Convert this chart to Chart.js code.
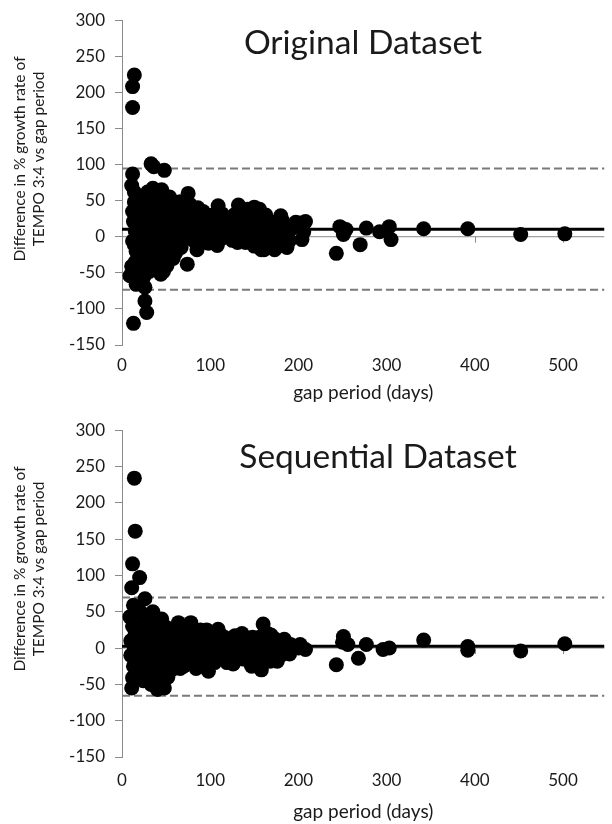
<!DOCTYPE html>
<html>
<head>
<meta charset="utf-8">
<script src="https://cdn.jsdelivr.net/npm/chart.js@4.4.1/dist/chart.umd.min.js"></script>
<style>
  body { margin: 0; background: #fff; width: 612px; height: 824px; overflow: hidden; }
  canvas { position: absolute; left: 0; }
  #c1 { top: 0; }
  #c2 { top: 410px; }
</style>
</head>
<body>
<canvas id="c1" width="612" height="410"></canvas>
<canvas id="c2" width="612" height="414"></canvas>
<script>
// --------------------------- Data ---------------------------
const xTicks = [0, 100, 200, 300, 400, 500];
const yMin = -150, yMax = 300, yStep = 50;
const xMax = 547;

const yTitle = ['Difference in % growth rate of', 'TEMPO 3:4 vs gap period'];
const xTitle = 'gap period (days)';

// Original dataset: [gap days, difference %]
const origPoints = [
  [14,224],[12,208],[12,179],[33,101],[36,97],[48,92],[12,87],
  [11,71],[14,62],[35,67],[44,58],[75,60],
  [12,35],[13,21],[12,-6],[14,-11],[11,-41],[9,-54],[16,-66],[26,-70],[26,-89],[28,-105],[13,-120],
  [74,-38],[50,-29],[85,-18],[109,43],[132,44],[150,41],[156,38],[180,29],[202,19],[87,30],[65,48],[55,41],
  [117,3],[142,0],[150,-13],[161,-18],[172,-16],[187,-15],[132,21],[95,-2],[98,-9],
  [103,30],[122,25],[208,21],[206,7],[204,-4],[247,14],[254,10],[251,3],[277,12],[292,7],[303,14],[305,-4],
  [342,11],[243,-23],[270,-11],[143,-2],[158,-18],[173,-18],[150,21],[165,21],[176,12],[183,0],[165,-2],
  [392,11],[452,3],[502,4],
  [18,45],[20,30],[22,15],[24,0],[20,-15],[18,-30],[22,-45],[25,-55],[28,-40],[30,-25],[32,-10],[30,5],
  [28,20],[30,38],[26,52],[32,55],[38,48],[40,35],[38,20],[36,5],[38,-8],[35,-22],[40,-30],[42,-45],
  [46,-38],[48,-20],[45,-5],[50,10],[47,25],[52,38],[56,28],[58,15],[55,0],[60,-12],[62,5],[64,22],
  [68,35],[70,15],[72,0],[78,20],[80,35],[82,5],[90,15],[95,25],[100,10],[105,15],[110,20],[115,12],
  [120,8],[125,15],[128,5],[135,10],[138,28],[145,15],[155,5],[160,10],[168,5],[175,-5],[180,15],
  [185,5],[190,-5],[178,-12],[165,-12],[152,-5],[140,-8],[112,-3],[125,-5],
  [16,-20],[15,8],[17,52],[19,-50],[23,-60],[21,40],[27,-20],[33,28],[34,-35],[43,-15],[46,55],[53,-22],
  [57,45],[63,-5],[66,48],[44,12],[36,38],[29,62],[31,-48],[41,20],[24,-30],[52,-10],[58,-30],[62,30],
  [70,25],[76,10],[84,22],[88,0],[92,35],[97,5],[60,40],[45,65],
  [20,55],[24,45],[27,35],[34,42],[39,60],[42,50],[49,45],[54,55],[26,-10],[29,-5],[33,-18],[37,-28],
  [41,-5],[44,-52],[47,-48],[51,-40],[56,-15],[61,-22],[65,10],[67,-15],[73,30],[77,45],[81,-5],[86,40],
  [91,-8],[94,12],[99,28],[104,0],[108,-12],[113,32],[118,25],[127,30],[131,-8],[137,0],[142,38],[147,25],
  [153,28],[159,2],[163,30],[170,20],[174,-8],[182,22],[188,8],[193,12],[197,20],[15,-35],[17,25],[19,-5],
  [21,-25],[23,10],[25,30],[16,40],[14,48]
];
const origMean = 10.5;
const origUpper = 94.5;
const origLower = -73.5;

// Sequential dataset: [gap days, difference %]
const seqPoints = [
  [14,234],[15,161],[12,116],[20,97],[11,83],[26,68],[13,59],[35,50],[9,43],[78,35],[109,26],[160,33],
  [12,-41],[11,-55],[24,-45],[40,-57],[48,-55],[35,-45],[158,-30],[147,-25],[98,-32],[59,-25],[128,17],
  [191,5],[200,0],[169,18],[202,5],[208,-2],[251,16],[277,5],[296,-2],[303,0],[342,11],[243,-23],
  [268,-14],[256,5],[176,-18],[87,-25],[392,2],[392,-3],[452,-4],[502,6],[145,-20],[250,8],
  [15,20],[18,5],[20,-10],[16,-25],[22,30],[25,15],[27,-5],[24,-20],[30,25],[32,10],[34,-8],[30,-30],
  [38,28],[40,15],[42,0],[38,-15],[44,-25],[46,30],[50,18],[52,5],[48,-10],[55,-18],[58,25],[60,10],
  [62,-5],[65,20],[68,-12],[70,5],[72,28],[75,-20],[78,15],[80,0],[82,-10],[85,22],[88,8],[90,-15],
  [92,20],[95,0],[100,-8],[102,12],[105,-20],[110,5],[114,-5],[118,10],[120,-15],[124,0],[130,8],
  [134,-8],[138,12],[140,-3],[144,5],[148,15],[150,-10],[154,2],[158,10],[162,-5],[165,20],[170,0],
  [172,-10],[178,8],[182,-5],[186,5],[195,3],[60,-22],[45,40],[28,42],[18,-40],[33,-50],[52,-40],
  [26,-35],[64,35],[12,30],[10,10],[10,-10],[13,-25],[21,50],[40,40],[56,-30],[70,-25],[84,-28],
  [96,25],[112,18],[126,-22],[136,20],
  [14,0],[16,15],[19,-20],[22,-32],[23,45],[29,-15],[31,35],[36,-35],[37,18],[41,-45],[43,22],[47,-30],
  [51,28],[54,-5],[57,12],[63,20],[66,-28],[69,15],[73,-8],[77,25],[79,-18],[83,12],[86,-5],[89,25],
  [94,-22],[97,15],[99,-15],[103,20],[107,2],[111,-12],[116,15],[119,-20],[122,12],[127,-12],[132,15],
  [137,-15],[141,10],[146,-5],[152,-12],[156,15],[160,-15],[164,5],[168,-18],[174,12],[180,-10],
  [184,12],[190,-8]
];
const seqMean = 2.5;
const seqUpper = 69.5;
const seqLower = -65.5;

// --------------------------- Helpers ---------------------------
const FONT = 'Lato, "Open Sans", sans-serif';
const TXT = '#1a1a1a';
const AXIS = '#8a8a8a';

const hline = (v) => [{ x: 0, y: v }, { x: xMax, y: v }];

// titles and tick marks on the zero line, drawn by hand
const decor = {
  id: 'decor',
  beforeDatasetsDraw(chart, args, o) {
    const ctx = chart.ctx;
    const xs = chart.scales.x, ys = chart.scales.y;
    const y0 = ys.getPixelForValue(0);
    ctx.save();
    ctx.strokeStyle = AXIS;
    ctx.lineWidth = 1;
    xTicks.slice(1).forEach(v => {
      const px = Math.round(xs.getPixelForValue(v)) + 0.5;
      ctx.beginPath();
      ctx.moveTo(px, y0);
      ctx.lineTo(px, y0 + 6);
      ctx.stroke();
    });
    ctx.restore();
  },
  afterDraw(chart, args, o) {
    const ctx = chart.ctx;
    ctx.save();
    ctx.fillStyle = TXT;
    ctx.textAlign = 'center';
    ctx.textBaseline = 'middle';
    ctx.font = '33.5px ' + FONT;
    ctx.fillText(o.title, o.tx, o.ty);
    ctx.translate(29, o.yc);
    ctx.rotate(-Math.PI / 2);
    ctx.font = '15.5px ' + FONT;
    ctx.fillText(yTitle[0], 0, -9.5);
    ctx.fillText(yTitle[1], 0, 9.5);
    ctx.restore();
  }
};

function makeChart(id, pts, mean, upper, lower, opt) {
  const c = document.getElementById(id);
  return new Chart(c, {
    data: {
      datasets: [
        { type: 'scatter', data: pts.map(p => ({ x: p[0], y: p[1] })),
          backgroundColor: '#000', borderColor: '#000', borderWidth: 0,
          pointRadius: 7.5, pointHoverRadius: 7.5, order: 0 },
        { type: 'line', data: hline(mean), borderColor: '#000', borderWidth: 3, pointRadius: 0, order: 1 },
        { type: 'line', data: hline(upper), borderColor: '#7a7a7a', borderWidth: 2, borderDash: [8, 4], pointRadius: 0, order: 2 },
        { type: 'line', data: hline(lower), borderColor: '#7a7a7a', borderWidth: 2, borderDash: [8, 4], pointRadius: 0, order: 3 },
        { type: 'line', data: hline(0), borderColor: AXIS, borderWidth: 1, pointRadius: 0, order: 4 }
      ]
    },
    options: {
      responsive: false,
      animation: false,
      plugins: {
        legend: { display: false },
        tooltip: { enabled: false },
        decor: opt
      },
      layout: { padding: { top: 17, left: 0, right: 0, bottom: 0 } },
      scales: {
        x: {
          type: 'linear', min: 0, max: xMax,
          grid: { display: false, drawTicks: false },
          border: { display: false },
          afterBuildTicks: (s) => { s.ticks = xTicks.map(v => ({ value: v })); },
          ticks: { padding: opt.tickPad, color: TXT, font: { family: FONT, size: 17 } },
          title: { display: true, text: xTitle, color: TXT, font: { family: FONT, size: 19 },
                   padding: { top: 0, bottom: opt.titlePad } },
          afterFit: (s) => { s.height = opt.xh; }
        },
        y: {
          min: yMin, max: yMax,
          ticks: { stepSize: yStep, padding: 10, color: TXT, font: { family: FONT, size: 17 } },
          grid: { drawOnChartArea: false, tickLength: 7, color: AXIS },
          border: { color: AXIS, width: 1 },
          afterFit: (s) => { s.width = 122; }
        }
      }
    },
    plugins: [decor]
  });
}

makeChart('c1', origPoints, origMean, origUpper, origLower,
  { title: 'Original Dataset', tx: 363, ty: 43, yc: 159, tickPad: 10, titlePad: 6, xh: 65 });
makeChart('c2', seqPoints, seqMean, seqUpper, seqLower,
  { title: 'Sequential Dataset', tx: 378, ty: 47, yc: 159, tickPad: 13, titlePad: 1, xh: 67 });
</script>
</body>
</html>
